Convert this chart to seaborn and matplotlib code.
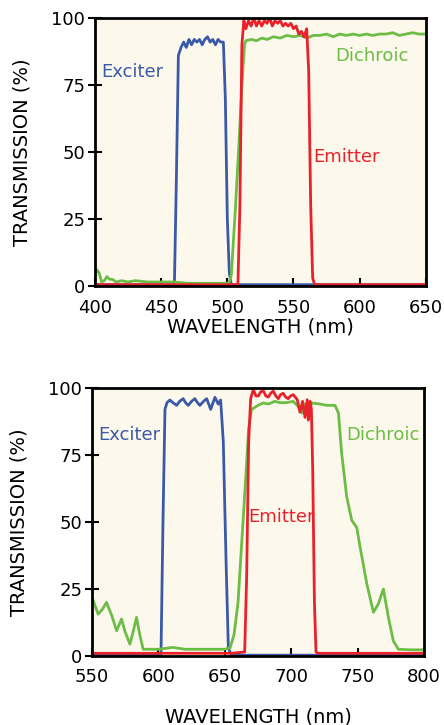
import numpy as np
import pandas as pd
import matplotlib
matplotlib.use("Agg")
import matplotlib.pyplot as plt
import seaborn as sns

# colours
BLUE = "#3a5aa8"
RED = "#e8212b"
GREEN = "#6cbd45"
CREAM = "#fdf8ec"

# ---- upper panel (400-650 nm) ----
top_ex_wl = [400, 460, 461.5, 463, 465, 467, 469, 471, 473, 475, 477, 479, 481, 483, 485, 487,
             489, 491, 493, 495, 497, 498.5, 500, 501.5, 503, 650]
top_ex_t = [0.5, 0.5, 40, 86, 89, 91, 89, 92, 90, 92, 91, 92, 90, 92, 93, 91,
            92, 90, 92, 91, 91, 70, 25, 5, 0.5, 0.5]

top_di_wl = [400, 401.5, 403, 405, 407, 409, 411, 413, 416, 420, 425, 430, 440, 450, 460, 470,
             480, 490, 500, 501.5, 503, 506, 509, 511, 513, 514, 518, 522, 526, 530, 535, 540,
             545, 550, 555, 560, 565, 570, 575, 580, 585, 590, 595, 600, 605, 610, 615, 620,
             625, 630, 635, 640, 645, 650]
top_di_t = [4, 6, 5, 1.5, 2, 3.5, 2.5, 2.5, 1.5, 2, 1.5, 2, 1.5, 1.5, 1.5, 1,
            1, 1, 1, 1.5, 4, 28, 55, 75, 90, 91.5, 92, 91.5, 92.5, 92, 93, 92.5,
            93.5, 93, 93.5, 92.5, 93.5, 93.5, 94, 93, 94, 93.5, 94, 93.5, 94, 93.5, 94, 94,
            94.5, 93.5, 94, 94.5, 94, 94]

top_em_wl = [400, 508, 509.5, 511, 512.5, 514, 516, 518, 520, 522, 524, 526, 528, 530, 532, 534,
             536, 538, 540, 542, 544, 546, 548, 550, 552, 554, 556, 558, 560, 561.5, 563, 564.5,
             566, 650]
top_em_t = [0.5, 0.5, 30, 90, 99, 96, 99, 97, 100, 97, 99, 97, 99, 98, 100, 97,
            99, 98, 99, 97, 98, 97, 98, 96, 97, 94, 95, 93, 96, 80, 30, 3,
            0.5, 0.5]

# ---- lower panel (550-800 nm) ----
bot_ex_wl = [550, 602, 603.5, 605, 606.5, 608.7, 611, 613.8, 616, 618.7, 620.5, 622.5, 625,
             627.5, 629.5, 631.3, 634, 636.4, 639.4, 642.6, 645.1, 646.9, 648.9, 651, 652.7,
             655, 800]
bot_ex_t = [0.3, 0.3, 50, 92, 94.5, 95.5, 94.5, 93.5, 95, 96, 94.5, 93.5, 95,
            96, 94.5, 93.5, 95, 96, 92, 96.5, 94, 95.5, 80, 35, 3,
            0.3, 0.3]

bot_di_wl = [550, 551, 554.7, 558, 561, 565, 568.6, 572.3, 575, 578.6, 581, 583.6, 586, 588.6,
             600, 611, 620, 635, 650, 654, 657, 660, 663, 666, 668, 670.2, 675, 679, 683,
             687.5, 692, 696, 701.6, 705.4, 707.9, 710.4, 713, 715.5, 721.7, 727, 733, 735.6,
             738, 741.8, 745.6, 749.3, 751.9, 756.9, 761.9, 765.6, 769.4, 773.2, 776.9, 780.7,
             790, 800]
bot_di_t = [22, 20.6, 15.6, 17.5, 20, 15, 9.4, 13.8, 9, 4.4, 9, 14.4, 8, 2.5,
            2.5, 3.2, 2.5, 2.5, 2.5, 3, 8, 20, 44, 68, 85, 92, 93.5, 94.4, 94,
            95, 94.5, 94.5, 95, 93, 90.6, 94, 90, 94.4, 94, 93.5, 93.5, 90.6,
            75.6, 59.4, 50.6, 48, 40.6, 27, 16.3, 19.4, 25, 14.4, 5.6, 2.5,
            2.3, 2.3]

bot_em_wl = [550, 655, 665, 666.5, 668, 669.5, 671.5, 673.5, 675.3, 677, 679, 681, 682.8, 684.5,
             686.5, 688.5, 690.3, 692, 694, 696, 697.8, 699.5, 701.6, 704.6, 706.6, 708.6, 710.4,
             712.1, 712.9, 714.2, 715.2, 716.2, 717.5, 718.7, 720, 800]
bot_em_t = [1, 1, 1.5, 30, 80, 96, 99.4, 97, 97, 98.5, 99, 97, 96.6, 98,
            98.8, 97, 96, 97.5, 98, 96.5, 96, 97, 97.5, 95.6, 91, 95, 89,
            95.6, 88, 95, 92, 70, 20, 1.5, 1, 1]

top_xticks = [400, 450, 500, 550, 600, 650]
bot_xticks = [550, 600, 650, 700, 750, 800]
yticks = [0, 25, 50, 75, 100]

top_labels = [("Exciter", 428, 80, BLUE), ("Dichroic", 609, 86, GREEN), ("Emitter", 590, 48, RED)]
bot_labels = [("Exciter", 578, 82.5, BLUE), ("Emitter", 692.5, 52, RED), ("Dichroic", 769, 82.5, GREEN)]

sns.set_style("ticks")
plt.rcParams["font.family"] = ["DejaVu Sans"]
plt.rcParams["text.color"] = "black"
plt.rcParams["axes.labelcolor"] = "black"
plt.rcParams["xtick.color"] = "black"
plt.rcParams["ytick.color"] = "black"


def draw_panel(ax, series, xticks, labels, xlabelpad):
    ax.set_facecolor(CREAM)
    for wl, t, col in series:
        df = pd.DataFrame({"wl": wl, "t": t})
        sns.lineplot(data=df, x="wl", y="t", color=col, linewidth=2, estimator=None,
                     sort=False, ax=ax)
    ax.set_xlim(xticks[0], xticks[-1])
    ax.set_ylim(0, 100)
    ax.set_xticks(xticks)
    ax.set_yticks(yticks)
    ax.tick_params(axis="x", direction="in", length=6, width=1.5, labelsize=13, pad=9)
    ax.tick_params(axis="y", direction="inout", length=10, width=1.5, labelsize=13, pad=2)
    for s in ax.spines.values():
        s.set_linewidth(2)
        s.set_color("black")
    ax.set_xlabel("WAVELENGTH (nm)", fontsize=14, labelpad=xlabelpad)
    ax.set_ylabel("TRANSMISSION (%)", fontsize=14, labelpad=14)
    for txt, x, y, col in labels:
        ax.text(x, y, txt, color=col, fontsize=13, ha="center", va="center")


fig = plt.figure(figsize=(4.44, 7.25), dpi=100)
ax1 = fig.add_axes([0.214, 0.6055, 0.745, 0.3697])
ax2 = fig.add_axes([0.207, 0.0952, 0.748, 0.3697])

draw_panel(ax1, [(top_ex_wl, top_ex_t, BLUE), (top_di_wl, top_di_t, GREEN), (top_em_wl, top_em_t, RED)],
           top_xticks, top_labels, 1)
draw_panel(ax2, [(bot_ex_wl, bot_ex_t, BLUE), (bot_di_wl, bot_di_t, GREEN), (bot_em_wl, bot_em_t, RED)],
           bot_xticks, bot_labels, 15)

fig.savefig("out.png", dpi=100)
